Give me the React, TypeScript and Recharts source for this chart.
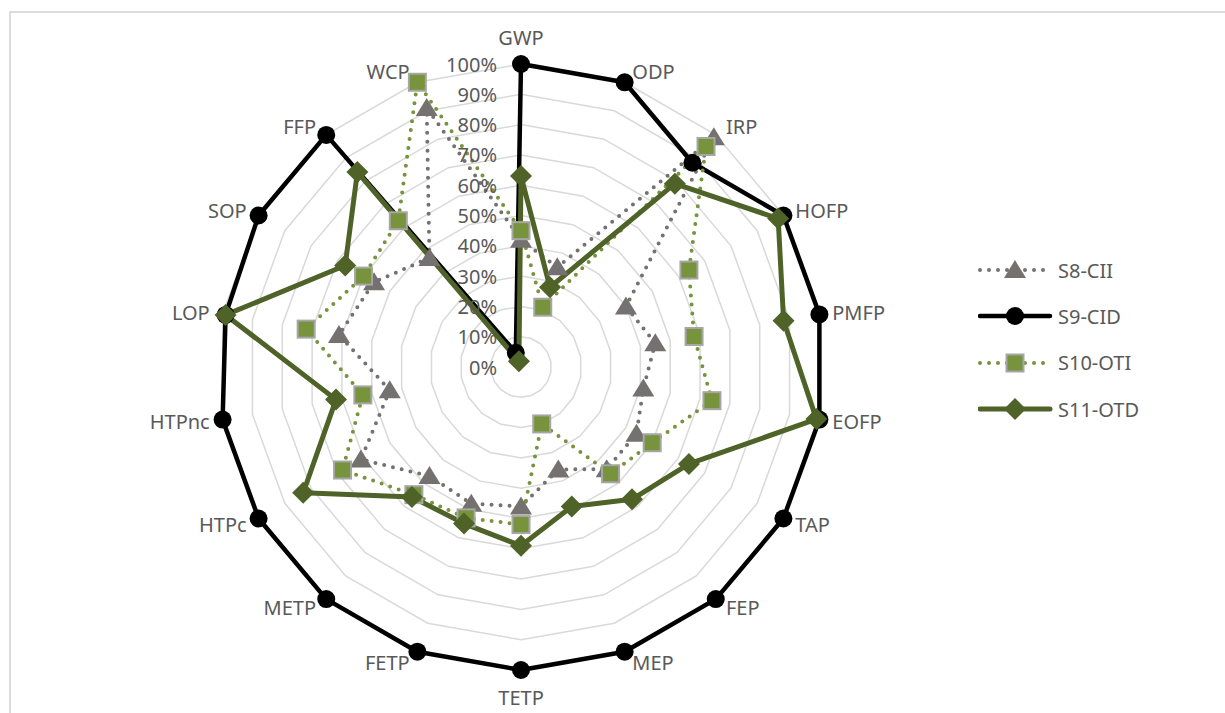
import React from "react";
import { RadarChart, Radar, PolarGrid, PolarAngleAxis, PolarRadiusAxis, Legend } from "recharts";

const categories = ["GWP", "ODP", "IRP", "HOFP", "PMFP", "EOFP", "TAP", "FEP", "MEP", "TETP", "FETP", "METP", "HTPc", "HTPnc", "LOP", "SOP", "FFP", "WCP"];
const s8Cii = [42, 35, 99, 40, 45, 41, 44, 44, 36, 46, 48, 47, 61, 44, 61, 56, 47, 91];
const s9Cid = [100, 100, 88, 100, 100, 100, 100, 100, 100, 100, 100, 100, 100, 100, 99, 100, 100, 5];
const s10Oti = [45, 21, 95, 64, 58, 64, 50, 46, 20, 52, 53, 55, 68, 53, 72, 60, 63, 100];
const s11Otd = [63, 28, 79, 98, 88, 99, 64, 57, 49, 59, 55, 56, 83, 62, 99, 67, 84, 2];
const radiusTicks = [0, 10, 20, 30, 40, 50, 60, 70, 80, 90, 100];

const data = categories.map((name, i) => ({
  name,
  s8: s8Cii[i],
  s9: s9Cid[i],
  s10: s10Oti[i],
  s11: s11Otd[i],
}));

const CX = 521;
const CY = 367;
const R = 303;
const FONT = "'Noto Sans', sans-serif";
const TEXT = "#595959";

const GRAY = "#767171";
const OLIVE = "#77933c";
const DARK = "#4f6228";

// marker shapes
const triangle = (x: number, y: number, k?: any) => (
  <polygon key={k} points={`${x},${y - 10} ${x + 11},${y + 8} ${x - 11},${y + 8}`} fill={GRAY} />
);
const circle = (x: number, y: number, k?: any) => <circle key={k} cx={x} cy={y} r={9} fill="#000" />;
const square = (x: number, y: number, k?: any) => (
  <rect key={k} x={x - 8.5} y={y - 8.5} width={17} height={17} fill={OLIVE} stroke="#a6a6a6" strokeWidth={2} />
);
const diamond = (x: number, y: number, k?: any) => (
  <polygon key={k} points={`${x},${y - 11} ${x + 11},${y} ${x},${y + 11} ${x - 11},${y}`} fill={DARK} />
);

const series = [
  { key: "s8", name: "S8-CII", color: GRAY, width: 4, dash: "0 9", marker: triangle },
  { key: "s9", name: "S9-CID", color: "#000", width: 4.5, dash: undefined, marker: circle },
  { key: "s10", name: "S10-OTI", color: OLIVE, width: 4, dash: "0 9", marker: square },
  { key: "s11", name: "S11-OTD", color: DARK, width: 5, dash: undefined, marker: diamond },
];

const AngleTick = (props: any) => {
  const a = (props.payload.coordinate * Math.PI) / 180;
  const c = Math.cos(a);
  const s = Math.sin(a);
  const px = CX + (R + 8) * c;
  const py = CY - (R + 8) * s;
  const mid = Math.abs(c) < 0.05;
  const anchor = mid ? "middle" : c > 0 ? "start" : "end";
  const x = mid ? px : px + (c > 0 ? 5 : -5);
  const y = mid ? py - s * 19 : py - s * 3;
  return (
    <text x={x} y={y} textAnchor={anchor} dominantBaseline="central" fill={TEXT} fontSize={20} fontFamily={FONT}>
      {props.payload.value}
    </text>
  );
};

const RadiusTick = (props: any) => (
  <text x={props.x - 24} y={props.y} textAnchor="end" dominantBaseline="central" fill={TEXT} fontSize={20} fontFamily={FONT}>
    {props.payload.value}%
  </text>
);

const LegendBox = () => (
  <div style={{ fontFamily: FONT }}>
    {series.map((s) => (
      <div key={s.key} style={{ height: 46.3, display: "flex", alignItems: "center" }}>
        <svg width={76} height={24}>
          <line x1={2} y1={12} x2={72} y2={12} stroke={s.color} strokeWidth={s.width} strokeDasharray={s.dash} strokeLinecap="round" />
          {s.marker(37, 12)}
        </svg>
        <span style={{ marginLeft: 4, fontSize: 20, color: TEXT }}>{s.name}</span>
      </div>
    ))}
  </div>
);

export default function App() {
  return (
    <div style={{ position: "fixed", left: 0, top: 0, width: 1225, height: 713, background: "#fff", overflow: "hidden" }}>
      <div style={{ position: "absolute", left: 9, top: 11, right: -10, bottom: -10, borderLeft: "2px solid #dcdcdc", borderTop: "2px solid #dcdcdc" }} />
      <div style={{ position: "absolute", left: 0, top: 0 }}>
        <RadarChart width={1225} height={713} data={data} cx={CX} cy={CY} outerRadius={R} startAngle={90} endAngle={-270}>
          <PolarGrid gridType="polygon" radialLines={false} stroke="#d9d9d9" strokeWidth={1.5} />
          <PolarAngleAxis dataKey="name" tick={AngleTick} tickLine={false} axisLine={false} />
          <PolarRadiusAxis angle={90} domain={[0, 100]} ticks={radiusTicks} tick={RadiusTick} axisLine={false} tickLine={false} />
          {series.map((s) => (
            <Radar
              key={s.key}
              name={s.name}
              dataKey={s.key}
              stroke={s.color}
              strokeWidth={s.width}
              strokeDasharray={s.dash}
              strokeLinecap="round"
              strokeLinejoin="round"
              fill="none"
              fillOpacity={0}
              isAnimationActive={false}
              dot={(p: any) => s.marker(p.cx, p.cy, `${s.key}-${p.index}`)}
            />
          ))}
          <Legend content={LegendBox} wrapperStyle={{ position: "absolute", left: 978, top: 247, width: 220 }} />
        </RadarChart>
      </div>
    </div>
  );
}
